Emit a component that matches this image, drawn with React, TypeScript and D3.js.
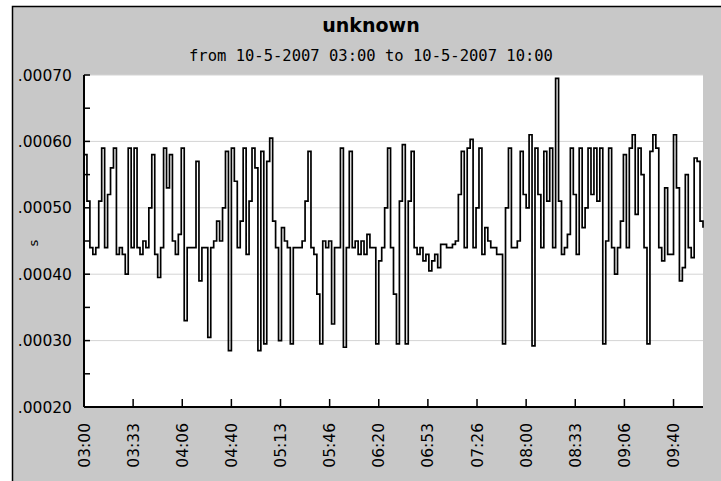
import React from "react";
import * as d3 from "d3";

const chartTitle = "unknown";
const chartSubtitle = "from 10-5-2007 03:00 to 10-5-2007 10:00";
const yAxisLabel = "s";
const startTime = new Date(2007, 4, 10, 3, 0, 0);
const endTime = new Date(2007, 4, 10, 10, 0, 0);
const sampleStepMinutes = 2;
const xTickStepSeconds = 2000;
const xTickCount = 13;
const yTickValues = [0.0002, 0.0003, 0.0004, 0.0005, 0.0006, 0.0007];
const yMinorTickValues = [0.00025, 0.00035, 0.00045, 0.00055, 0.00065];

// values in units of 1e-5 s, one sample every 2 minutes from 03:00
const valuesE5 = [
  58, 51, 44, 43, 44, 51, 59, 44, 52, 56, 59, 43, 44, 43, 40, 59, 44, 59, 44, 43, 45, 44, 50, 58, 43, 39.5, 44, 59, 53, 58, 45, 43, 46, 59, 33, 44, 44,
  44, 57, 39, 44, 44, 30.5, 44, 45, 48, 45, 50, 58.5, 28.5, 59, 54, 44, 48, 59, 43, 51, 59, 56, 28.5, 58.5, 29.5, 57, 60.5, 48, 44, 30, 47, 45, 44, 29.5, 44, 44,
  44, 45, 51, 58.5, 44, 43, 37, 29.5, 45, 44, 45, 32.5, 44, 44, 59, 29, 44, 58.5, 44, 45, 43, 45, 43, 46, 44, 44, 29.5, 42, 44, 50, 59, 44, 37, 29.5, 51, 59.5,
  29.5, 51, 58.5, 44, 43, 44, 42, 43, 40.5, 42, 43, 41, 44.5, 44.5, 44, 44, 44.5, 45, 52, 58.5, 44, 59, 60.3, 44, 50, 59, 43, 47, 45, 44, 44, 43, 43, 29.5, 50, 59,
  44, 44, 45, 58.5, 52, 50, 61, 29.2, 59, 52, 44, 58.5, 51, 59, 44, 69.5, 51, 43, 44, 46, 59, 52, 43, 59, 47, 50, 59, 52, 59, 51, 59, 29.5, 45, 59, 44, 40,
  44, 48, 58, 44, 59, 61, 49, 59, 55, 44, 29.5, 58.5, 61, 59, 44, 42, 53, 43, 43, 61, 53, 39, 41, 55, 44, 42.5, 57.5, 57, 48, 47,
];

const W = 721;
const H = 481;
const M = { left: 84, right: 703, top: 75, bottom: 407 };

export default function App() {
  const data = valuesE5.map((v, i) => ({
    t: new Date(startTime.getTime() + i * sampleStepMinutes * 60000),
    v: v * 1e-5,
  }));
  const x = d3.scaleTime().domain([startTime, endTime]).range([M.left, M.right]);
  const y = d3.scaleLinear().domain([0.0002, 0.0007]).range([M.bottom, M.top]);
  const line = d3
    .line<{ t: Date; v: number }>()
    .x((d) => x(d.t))
    .y((d) => y(d.v))
    .curve(d3.curveStepAfter);
  const xTicks = d3.range(xTickCount).map((i) => new Date(startTime.getTime() + i * xTickStepSeconds * 1000));
  const fmtTime = d3.timeFormat("%H:%M");
  const fmtY = (v: number) => d3.format(".5f")(v).replace(/^0/, "");
  const cx = 371;

  return (
    <div style={{ position: "absolute", left: 0, top: 0 }}>
      <svg width={W} height={H} style={{ display: "block" }}>
        <rect x={0} y={0} width={W} height={H} fill="#ffffff" />
        <rect x={12.5} y={6.5} width={W + 10} height={H + 10} fill="#c8c8c8" stroke="#000" strokeWidth={1.5} />
        <text x={cx} y={31.5} textAnchor="middle" fontFamily="DejaVu Sans" fontWeight="bold" fontSize={19} fill="#000">
          {chartTitle}
        </text>
        <text x={cx} y={61} textAnchor="middle" fontFamily="DejaVu Sans Mono" fontSize={15.5} fill="#000">
          {chartSubtitle}
        </text>
        <rect x={M.left} y={M.top} width={M.right - M.left} height={M.bottom - M.top} fill="#ffffff" />
        {yTickValues.map((v) => (
          <line key={"g" + v} x1={M.left} x2={M.right} y1={y(v)} y2={y(v)} stroke="#d4d4d4" strokeWidth={1} />
        ))}
        <path d={line(data) || ""} fill="none" stroke="#000" strokeWidth={1.7} strokeLinejoin="miter" />
        <line x1={M.left} x2={M.left} y1={M.top} y2={M.bottom} stroke="#000" strokeWidth={2} />
        <line x1={M.left} x2={M.right} y1={M.bottom} y2={M.bottom} stroke="#000" strokeWidth={2} />
        {yTickValues.concat(yMinorTickValues).map((v) => (
          <line key={"t" + v} x1={M.left} x2={M.left + 6} y1={y(v)} y2={y(v)} stroke="#000" strokeWidth={1.5} />
        ))}
        {yTickValues.map((v) => (
          <text key={"l" + v} x={72} y={y(v)} dy="0.36em" textAnchor="end" fontFamily="DejaVu Sans" fontSize={15.5} fill="#000">
            {fmtY(v)}
          </text>
        ))}
        {xTicks.map((t, i) => (
          <g key={"x" + i}>
            <line x1={x(t)} x2={x(t)} y1={M.bottom} y2={M.bottom - 8} stroke="#000" strokeWidth={1.5} />
            <text
              transform={`translate(${x(t)},${M.bottom + 16}) rotate(-90)`}
              dy="0.36em"
              textAnchor="end"
              fontFamily="DejaVu Sans"
              fontSize={15.5}
              fill="#000"
            >
              {fmtTime(t)}
            </text>
          </g>
        ))}
        <text transform={`translate(33,243) rotate(-90)`} dy="0.36em" textAnchor="middle" fontFamily="DejaVu Sans" fontSize={13} fill="#000">
          {yAxisLabel}
        </text>
      </svg>
    </div>
  );
}
